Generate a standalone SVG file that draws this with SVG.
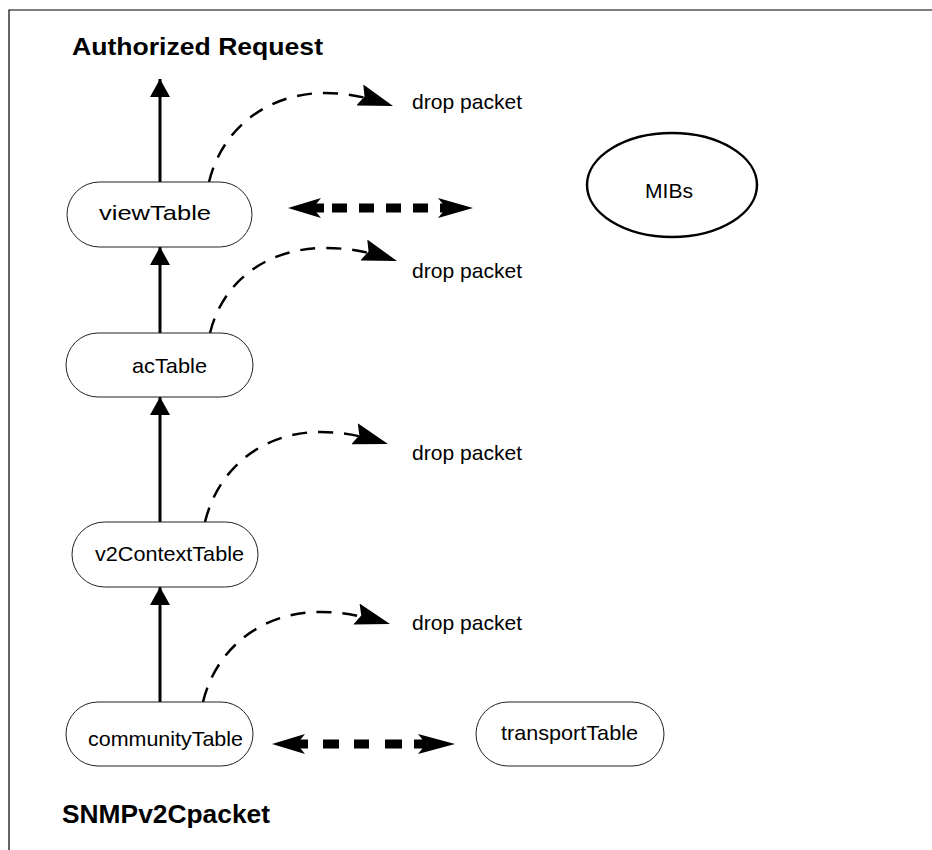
<svg xmlns="http://www.w3.org/2000/svg" width="932" height="850" viewBox="0 0 932 850">
<style>
.frame{stroke:#000;stroke-width:1.2;fill:none}
.node{fill:#fff;stroke:#222;stroke-width:1}
.ell{fill:#fff;stroke:#000;stroke-width:2.5}
.lbl{font-family:"Liberation Sans",Arial,sans-serif;font-size:21px;fill:#000}
.title{font-family:"Liberation Sans",Arial,sans-serif;font-size:24px;font-weight:bold;fill:#000}
.up{stroke:#000;stroke-width:3;fill:none;marker-end:url(#tri)}
.drop{stroke:#000;stroke-width:2.5;fill:none;stroke-dasharray:15 11;marker-end:url(#barb)}
.dbl{stroke:#000;stroke-width:9;fill:none}
.head{fill:#000;stroke:none}
</style>
<defs>
<marker id="tri" markerUnits="userSpaceOnUse" viewBox="0 -10 18 20" refX="18" refY="0" markerWidth="18" markerHeight="20" orient="auto">
<path d="M0,-10 L18,0 L0,10 Z" fill="#000"/>
</marker>
<marker id="barb" markerUnits="userSpaceOnUse" viewBox="0 -11 35 22" refX="35" refY="0" markerWidth="35" markerHeight="22" orient="auto">
<path d="M0,-11 L35,0 L0,11 L5,0 Z" fill="#000"/>
</marker>
</defs>
<g id="frame">
<path class="frame" d="M9,850 L9,10 L932,10"/>
</g>
<g id="connectors">
<path class="up" d="M160,182 L160,79"/>
<path class="up" d="M160,333 L160,247"/>
<path class="up" d="M160,522 L160,397"/>
<path class="up" d="M160,702 L160,587"/>
<path class="drop" d="M209,182 C222,128 268,93 325,93 C348,93 366,97 393,106"/>
<path class="drop" d="M210,333 C223,280 268,248 325,248 C350,248 370,252 397,261"/>
<path class="drop" d="M205,522 C218,468 263,432 320,432 C343,432 362,436 388,444"/>
<path class="drop" d="M203,702 C216,648 262,612 320,612 C343,612 363,616 390,624"/>
<g id="view-mibs">
<path class="dbl" d="M313,208 H324 M332,208 H347 M359,208 H374 M386,208 H401 M413,208 H428 M440,208 H447"/>
<polygon class="head" points="288,208 321,198 313,208 321,218"/>
<polygon class="head" points="473,208 438,198 446,208 438,218"/>
</g>
<g id="community-transport">
<path class="dbl" d="M297,744 H308 M323,744 H339 M354,744 H369 M385,744 H402 M414,744 H426"/>
<polygon class="head" points="272,744 305,734 297,744 305,754"/>
<polygon class="head" points="455,744 418,734 426,744 418,754"/>
</g>
</g>
<g id="title-authorized">
<text class="title" x="72" y="55" textLength="251" lengthAdjust="spacingAndGlyphs">Authorized Request</text>
</g>
<g id="title-snmp">
<text class="title" x="62" y="823" style="font-size:25px" textLength="208" lengthAdjust="spacingAndGlyphs">SNMPv2Cpacket</text>
</g>
<g id="viewTable">
<rect class="node" x="67" y="182" width="185" height="65" rx="32.5" ry="32.5"/>
<text class="lbl" x="99" y="220" textLength="112" lengthAdjust="spacingAndGlyphs">viewTable</text>
</g>
<g id="acTable">
<rect class="node" x="66" y="333" width="187" height="64" rx="32" ry="32"/>
<text class="lbl" x="132" y="373" textLength="75" lengthAdjust="spacingAndGlyphs">acTable</text>
</g>
<g id="v2ContextTable">
<rect class="node" x="72" y="522" width="186" height="65" rx="32.5" ry="32.5"/>
<text class="lbl" x="95" y="561" textLength="149" lengthAdjust="spacingAndGlyphs">v2ContextTable</text>
</g>
<g id="communityTable">
<rect class="node" x="66" y="702" width="187" height="64" rx="32" ry="32"/>
<text class="lbl" x="88" y="746" textLength="155" lengthAdjust="spacingAndGlyphs">communityTable</text>
</g>
<g id="transportTable">
<rect class="node" x="476" y="702" width="188" height="64" rx="32" ry="32"/>
<text class="lbl" x="501" y="740" textLength="137" lengthAdjust="spacingAndGlyphs">transportTable</text>
</g>
<g id="MIBs">
<ellipse class="ell" cx="672" cy="185" rx="85" ry="52"/>
<text class="lbl" x="645" y="198" textLength="48" lengthAdjust="spacingAndGlyphs">MIBs</text>
</g>
<g id="drop1">
<text class="lbl" x="412" y="109" textLength="110" lengthAdjust="spacingAndGlyphs">drop packet</text>
</g>
<g id="drop2">
<text class="lbl" x="412" y="278" textLength="110" lengthAdjust="spacingAndGlyphs">drop packet</text>
</g>
<g id="drop3">
<text class="lbl" x="412" y="460" textLength="110" lengthAdjust="spacingAndGlyphs">drop packet</text>
</g>
<g id="drop4">
<text class="lbl" x="412" y="630" textLength="110" lengthAdjust="spacingAndGlyphs">drop packet</text>
</g>
</svg>
